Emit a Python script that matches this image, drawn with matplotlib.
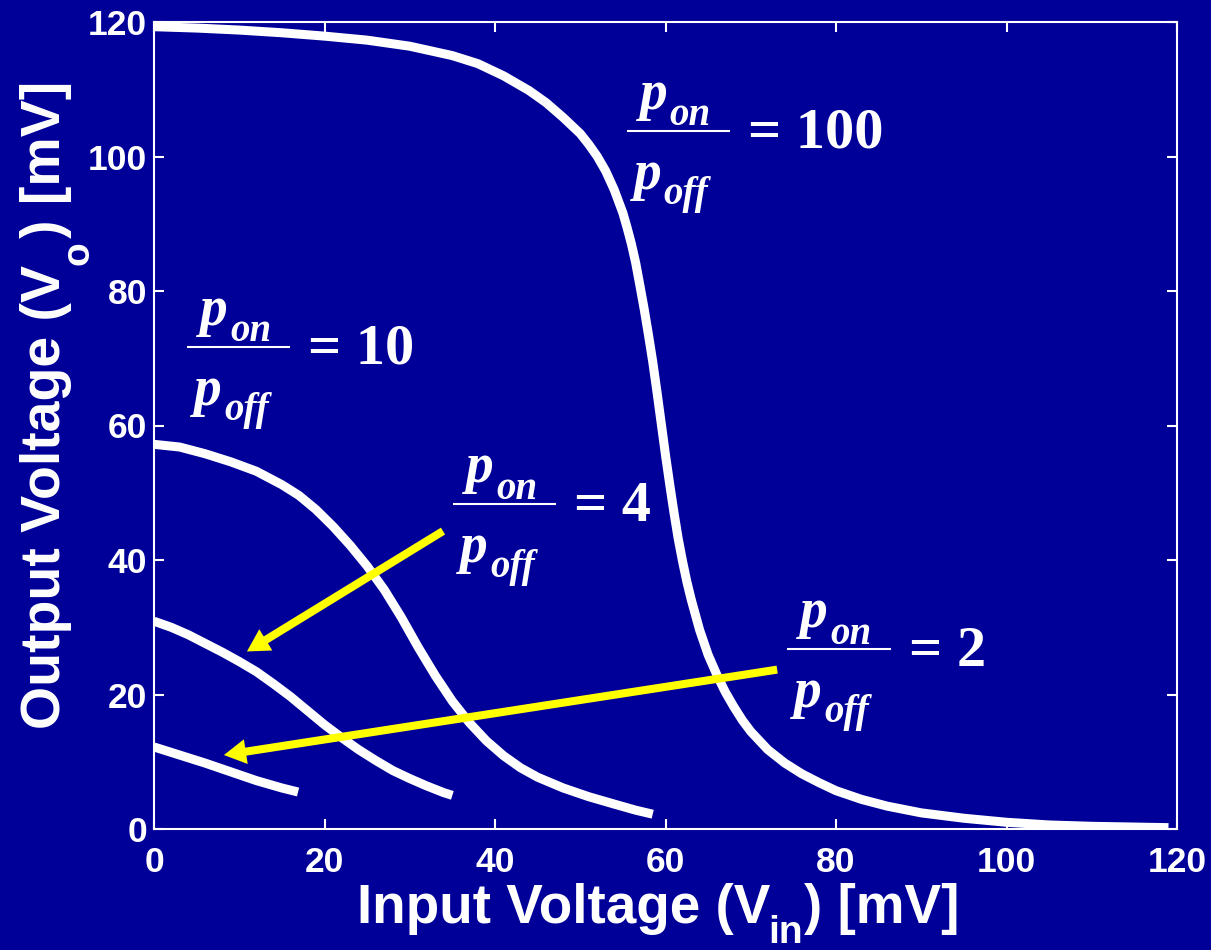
import matplotlib
matplotlib.use('Agg')
import matplotlib.pyplot as plt
from matplotlib import transforms

BG = '#000099'

plt.rcParams['font.family'] = 'Liberation Sans'
plt.rcParams['font.weight'] = 'bold'

# transfer curves, Vo vs Vin, one per pon/poff ratio
x_r100 = [0, 5, 10, 15, 20, 25, 30, 35, 38, 41, 44, 46, 48, 50, 51, 52, 53, 54, 55, 55.5, 56,
          56.5, 57, 57.5, 58, 58.5, 59, 59.5, 60, 60.5, 61, 61.5, 62, 62.5, 63, 64, 65, 66,
          67, 68, 69, 70, 72, 74, 76, 78, 80, 83, 86, 90, 95, 100, 105, 110, 119]
y_r100 = [119.3, 119.1, 118.8, 118.4, 117.9, 117.3, 116.4, 115.0, 113.8, 112.0, 109.8, 108.0,
          105.8, 103.4, 101.8, 100.0, 97.8, 95.0, 91.6, 89.4, 87.0, 84.2, 80.8, 77.3, 73.5,
          69.5, 65.0, 60.3, 55.6, 51.2, 47.0, 43.1, 39.8, 36.8, 34.2, 29.6, 25.9, 23.0, 20.4,
          18.2, 16.2, 14.5, 11.8, 9.8, 8.2, 6.9, 5.7, 4.4, 3.4, 2.4, 1.6, 1.0, 0.6, 0.4, 0.2]

x_r10 = [0, 3, 6, 9, 12, 15, 17, 19, 21, 23, 25, 27, 29, 31, 33, 35, 37, 39, 41, 43, 45,
         48, 51, 54, 56.5, 58.5]
y_r10 = [57.2, 56.8, 55.8, 54.6, 53.2, 51.2, 49.6, 47.5, 45.0, 42.2, 39.1, 35.6, 31.5, 27.0,
         22.8, 19.0, 15.8, 13.1, 10.9, 9.1, 7.7, 6.1, 4.8, 3.7, 2.8, 2.2]

x_r4 = [0, 2, 4, 6, 8, 10, 12, 14, 16, 18, 20, 22, 24, 26, 28, 30, 32, 34, 35]
y_r4 = [30.9, 30.0, 28.9, 27.6, 26.3, 24.9, 23.4, 21.6, 19.7, 17.6, 15.5, 13.6, 11.8, 10.2,
        8.7, 7.5, 6.4, 5.4, 5.0]

x_r2 = [0, 3, 6, 9, 12, 15, 16.9]
y_r2 = [12.2, 11.0, 9.8, 8.5, 7.2, 6.1, 5.5]

# ratio annotations: value, left end of fraction bar (data coords)
ratio_vals = ['100', '10', '4', '2']
bar_x = [55.5, 3.9, 35.1, 74.3]
bar_y = [103.8, 71.7, 48.3, 26.7]
bar_w = 12.1

# yellow pointers (tail -> head)
arrow_tail = [(33.9, 44.3), (73.1, 23.7)]
arrow_head = [(10.9, 26.4), (8.2, 11.0)]

fig = plt.figure(figsize=(12.11, 9.5), dpi=100, facecolor=BG)
ax = fig.add_axes([154 / 1211, 1 - 829 / 950, (1177 - 154) / 1211, (829 - 22) / 950])
ax.set_facecolor(BG)

for xs, ys in [(x_r100, y_r100), (x_r10, y_r10), (x_r4, y_r4), (x_r2, y_r2)]:
    ax.plot(xs, ys, color='white', lw=6.5, solid_capstyle='butt', solid_joinstyle='round')

ax.set_xlim(0, 120)
ax.set_ylim(0, 120)
ax.set_xticks(range(0, 121, 20))
ax.set_yticks(range(0, 121, 20))
for s in ax.spines.values():
    s.set_color('white')
    s.set_linewidth(1.5)
ax.tick_params(axis='both', direction='in', length=7, width=1.5, color='white',
               labelcolor='white', labelsize=25.5, top=True, right=True)
ax.tick_params(axis='x', pad=12)
ax.tick_params(axis='y', pad=5)


def off(dx, dy):
    return transforms.offset_copy(ax.transData, fig=fig, x=dx, y=dy, units='dots')


serif_it = dict(family='Liberation Serif', style='italic', weight='bold', color='white')

for val, x0, y0 in zip(ratio_vals, bar_x, bar_y):
    ax.plot([x0, x0 + bar_w], [y0, y0], color='white', lw=1.5, solid_capstyle='butt')
    p1 = ax.text(x0, y0, 'p', transform=off(13, 22), ha='left', va='baseline',
                 fontsize=40, **serif_it)
    ax.annotate('on', xy=(1, y0), xycoords=(p1, ax.transData), xytext=(2, 5.5),
                textcoords='offset pixels', ha='left', va='baseline', fontsize=28, **serif_it)
    p2 = ax.text(x0, y0, 'p', transform=off(7, -58), ha='left', va='baseline',
                 fontsize=40, **serif_it)
    ax.annotate('off', xy=(1, y0), xycoords=(p2, ax.transData), xytext=(2, -73),
                textcoords='offset pixels', ha='left', va='baseline', fontsize=28, **serif_it)
    ax.text(x0 + bar_w, y0, '= ' + val, transform=off(18, -17), ha='left', va='baseline',
            fontsize=42, color='white', family='Liberation Serif', weight='bold')

for (xt, yt), (xh, yh) in zip(arrow_tail, arrow_head):
    ax.annotate('', xy=(xh, yh), xytext=(xt, yt),
                arrowprops=dict(arrowstyle='simple,head_length=0.55,head_width=0.62,tail_width=0.2',
                                mutation_scale=29, fc='yellow', ec='none',
                                shrinkA=0, shrinkB=0))

# axis titles, built from pieces so the subscripts sit well below the baseline
t1 = fig.text(357 / 1211, 27 / 950, 'Input Voltage (V', fontsize=39.5, color='white',
              ha='left', va='baseline')
t2 = ax.annotate('in', xy=(1, 0), xycoords=t1, xytext=(-2, -8), textcoords='offset pixels',
                 ha='left', va='baseline', fontsize=28, color='white')
ax.annotate(') [mV]', xy=(1, 0), xycoords=(t2, t1), xytext=(1, 0), textcoords='offset pixels',
            ha='left', va='bottom', fontsize=39.5, color='white')

u1 = fig.text(72 / 1211, (950 - 729) / 950, 'Output Voltage (V', rotation=90, fontsize=40,
              color='white', ha='right', va='bottom')
u2 = ax.annotate('o', xy=(1, 1), xycoords=u1, xytext=(24, 0), textcoords='offset pixels',
                 rotation=90, ha='right', va='bottom', fontsize=28, color='white')
ax.annotate(') [mV]', xy=(1, 1), xycoords=(u1, u2), xytext=(0, 3), textcoords='offset pixels',
            rotation=90, ha='right', va='bottom', fontsize=40, color='white')

fig.savefig('out.png', dpi=100, facecolor=BG)
